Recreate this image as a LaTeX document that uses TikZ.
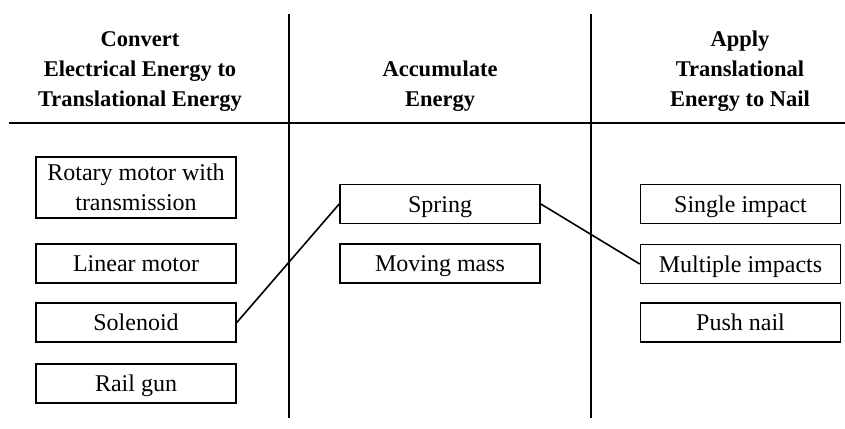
\documentclass[tikz,border=0pt]{standalone}
\usepackage{fontspec}
\setmainfont{Liberation Serif}
\begin{document}
\begin{tikzpicture}[x=1pt,y=-1pt,
  rule/.style={line width=1.8pt},
  optbox/.style={draw,line width=1.6pt,minimum width=200pt,minimum height=39pt,
    inner sep=0pt,align=center,font=\fontsize{24}{30}\selectfont},
  oneline/.style={optbox,text height=16pt,text depth=0pt},
  head/.style={anchor=south,inner sep=0pt,align=center,
    font=\fontsize{22.5}{30}\selectfont\bfseries},
  link/.style={line width=1.6pt}]
\useasboundingbox (0,0) rectangle (845,428);

% column dividers and header rule
\draw[rule] (289,14) -- (289,418);
\draw[rule] (591,14) -- (591,418);
\draw[rule] (9,123) -- (845,123);

% column headings
\node[head] (h1) at (140,112) {Convert\\Electrical Energy to\\Translational Energy};
\node[head] (h2) at (440,112) {Accumulate\\Energy};
\node[head] (h3) at (740,112) {Apply\\Translational\\Energy to Nail};

% first column: conversion options
\node[optbox,minimum height=61pt] (rot) at (136,187.5) {Rotary motor with\\transmission};
\node[oneline] (lin) at (136,263.5) {Linear motor};
\node[oneline] (sol) at (136,322.5) {Solenoid};
\node[oneline] (rail) at (136,383.5) {Rail gun};

% second column: energy storage
\node[oneline] (spring) at (440,204) {Spring};
\node[oneline] (mass) at (440,263.5) {Moving mass};

% third column: application to the nail
\node[oneline] (single) at (740.5,204) {Single impact};
\node[oneline] (multi) at (740.5,264) {Multiple impacts};
\node[oneline] (push) at (740.5,322.5) {Push nail};

% chosen combination
\draw[link] (sol.east) -- (spring.west);
\draw[link] (spring.east) -- (multi.west);
\end{tikzpicture}
\end{document}
